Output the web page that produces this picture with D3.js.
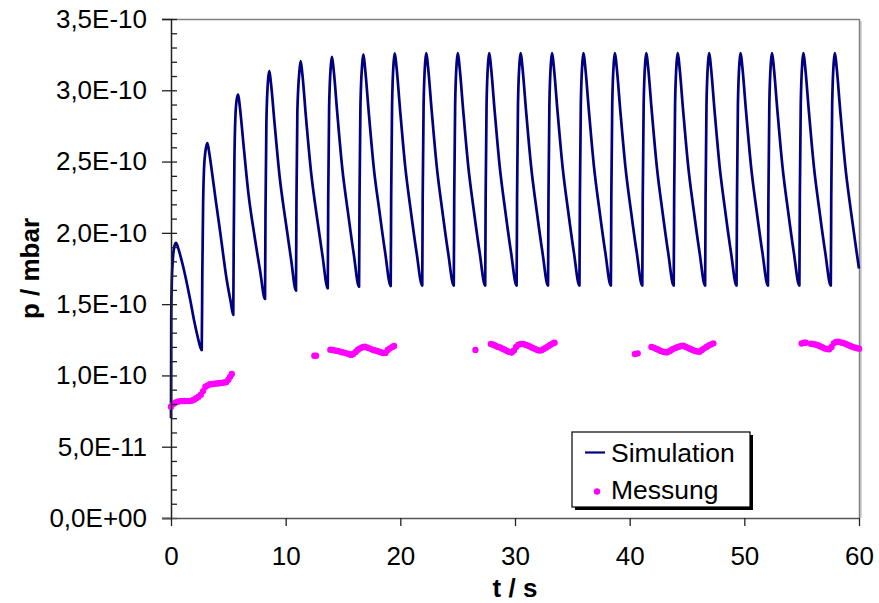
<!DOCTYPE html>
<html><head><meta charset="utf-8">
<script src="https://cdn.jsdelivr.net/npm/d3@7/dist/d3.min.js"></script>
<style>
html,body{margin:0;padding:0;background:#fff;}
svg{display:block;font-family:"Liberation Sans",Arial,sans-serif;}
</style></head>
<body><svg id="c" width="879" height="603"></svg>
<script>
// x ticks
const xTicks = [0, 10, 20, 30, 40, 50, 60];
const xTickLabels = ["0", "10", "20", "30", "40", "50", "60"];
// y ticks (values in 1e-10 mbar)
const yTicks = [0, 0.5, 1.0, 1.5, 2.0, 2.5, 3.0, 3.5];
const yTickLabels = ["0,0E+00", "5,0E-11", "1,0E-10", "1,5E-10", "2,0E-10", "2,5E-10", "3,0E-10", "3,5E-10"];
const seriesNames = ["Simulation", "Messung"];

// Simulation: [t (s), p (1e-10 mbar)]
const simulation = [
 [0,0.70],[0.02,1.40],[0.06,1.62],[0.15,1.80],[0.28,1.90],[0.44,1.93],[0.6,1.90],[0.85,1.83],[1.1,1.75],[1.4,1.64],[1.7,1.52],[2.0,1.39],[2.3,1.28],[2.55,1.20],[2.68,1.178],
 [2.73,1.70],[2.80,2.20],[2.88,2.45],[3.0,2.57],[3.17,2.63],[3.3,2.58],[3.5,2.47],[3.9,2.23],[4.3,2.00],[4.88,1.66],[5.2,1.52],[5.43,1.424],
 [5.47,1.95],[5.53,2.50],[5.62,2.82],[5.74,2.94],[5.86,2.97],[6.01,2.88],[6.31,2.63],[6.76,2.27],[7.26,1.99],[7.76,1.74],[8.2,1.536],
 [8.24,2.14],[8.32,2.78],[8.47,3.08],[8.58,3.135],[8.73,3.04],[9.03,2.77],[9.48,2.39],[9.98,2.09],[10.48,1.81],[10.9,1.594],
 [10.94,2.21],[11.02,2.85],[11.21,3.145],[11.31,3.205],[11.46,3.11],[11.76,2.82],[12.21,2.43],[12.71,2.12],[13.21,1.84],[13.67,1.611],
 [13.71,2.23],[13.79,2.88],[13.94,3.175],[14.04,3.235],[14.19,3.14],[14.49,2.85],[14.94,2.45],[15.44,2.14],[15.94,1.85],[16.4,1.622],
 [16.44,2.24],[16.52,2.89],[16.68,3.19],[16.78,3.252],[16.93,3.15],[17.23,2.86],[17.68,2.46],[18.18,2.15],[18.68,1.86],[19.16,1.627],
 [19.2,2.25],[19.28,2.90],[19.42,3.20],[19.52,3.259],[19.67,3.16],[19.97,2.87],[20.42,2.47],[20.92,2.15],[21.42,1.86],
 [21.91,1.63],[21.95,2.25],[22.03,2.90],[22.17,3.20],[22.27,3.26],[22.42,3.16],[22.72,2.87],[23.17,2.47],[23.67,2.15],[24.17,1.86],
 [24.66,1.63],[24.70,2.25],[24.78,2.90],[24.92,3.20],[25.02,3.26],[25.17,3.16],[25.47,2.87],[25.92,2.47],[26.42,2.15],[26.92,1.86],
 [27.40,1.63],[27.44,2.25],[27.52,2.90],[27.66,3.20],[27.76,3.26],[27.91,3.16],[28.21,2.87],[28.66,2.47],[29.16,2.15],[29.66,1.86],
 [30.14,1.63],[30.18,2.25],[30.26,2.90],[30.40,3.20],[30.50,3.26],[30.65,3.16],[30.95,2.87],[31.40,2.47],[31.90,2.15],[32.40,1.86],
 [32.88,1.63],[32.92,2.25],[33.00,2.90],[33.14,3.20],[33.24,3.26],[33.39,3.16],[33.69,2.87],[34.14,2.47],[34.64,2.15],[35.14,1.86],
 [35.62,1.63],[35.66,2.25],[35.74,2.90],[35.88,3.20],[35.98,3.26],[36.13,3.16],[36.43,2.87],[36.88,2.47],[37.38,2.15],[37.88,1.86],
 [38.36,1.63],[38.40,2.25],[38.48,2.90],[38.62,3.20],[38.72,3.26],[38.87,3.16],[39.17,2.87],[39.62,2.47],[40.12,2.15],[40.62,1.86],
 [41.10,1.63],[41.14,2.25],[41.22,2.90],[41.36,3.20],[41.46,3.26],[41.61,3.16],[41.91,2.87],[42.36,2.47],[42.86,2.15],[43.36,1.86],
 [43.84,1.63],[43.88,2.25],[43.96,2.90],[44.10,3.20],[44.20,3.26],[44.35,3.16],[44.65,2.87],[45.10,2.47],[45.60,2.15],[46.10,1.86],
 [46.58,1.63],[46.62,2.25],[46.70,2.90],[46.84,3.20],[46.94,3.26],[47.09,3.16],[47.39,2.87],[47.84,2.47],[48.34,2.15],[48.84,1.86],
 [49.32,1.63],[49.36,2.25],[49.44,2.90],[49.58,3.20],[49.68,3.26],[49.83,3.16],[50.13,2.87],[50.58,2.47],[51.08,2.15],[51.58,1.86],
 [52.06,1.63],[52.10,2.25],[52.18,2.90],[52.32,3.20],[52.42,3.26],[52.57,3.16],[52.87,2.87],[53.32,2.47],[53.82,2.15],[54.32,1.86],
 [54.80,1.63],[54.84,2.25],[54.92,2.90],[55.06,3.20],[55.16,3.26],[55.31,3.16],[55.61,2.87],[56.06,2.47],[56.56,2.15],[57.06,1.86],
 [57.54,1.63],[57.58,2.25],[57.66,2.90],[57.80,3.20],[57.90,3.26],[58.05,3.16],[58.35,2.87],[58.80,2.47],[59.30,2.15],[59.80,1.86],[60.0,1.75]
];

// Messung: [t (s), p (1e-10 mbar)]
const messung = [
 [0,0.78],[0.2,0.80],[0.4,0.81],[0.6,0.815],[0.8,0.82],[1.0,0.82],[1.2,0.821],[1.4,0.82],[1.6,0.82],[1.8,0.823],[2.0,0.83],[2.2,0.84],[2.4,0.85],[2.6,0.865],[2.8,0.89],[3.0,0.921],[3.2,0.93],[3.4,0.938],[3.6,0.94],[3.8,0.942],[4.0,0.944],[4.2,0.945],[4.4,0.947],[4.6,0.95],[4.8,0.952],[5.0,0.97],[5.15,0.99],[5.3,1.01],
 [12.5,1.138],[12.65,1.138],
 [13.9,1.18],[14.1,1.178],[14.3,1.175],[14.5,1.172],[14.7,1.168],[14.9,1.163],[15.1,1.16],[15.3,1.155],[15.5,1.15],[15.7,1.144],[15.9,1.15],[16.1,1.165],[16.3,1.18],[16.5,1.19],[16.7,1.198],[16.9,1.201],[17.1,1.196],[17.3,1.19],[17.5,1.183],[17.7,1.177],[17.9,1.173],[18.1,1.168],[18.3,1.163],[18.5,1.157],[18.7,1.158],[18.9,1.178],[19.1,1.19],[19.3,1.20],[19.45,1.206],
 [26.55,1.178],
 [27.9,1.22],[28.1,1.215],[28.3,1.208],[28.5,1.20],[28.7,1.196],[28.9,1.188],[29.1,1.18],[29.3,1.172],[29.5,1.165],[29.7,1.16],[29.9,1.175],[30.1,1.20],[30.3,1.215],[30.5,1.221],[30.7,1.22],[30.9,1.215],[31.1,1.21],[31.3,1.203],[31.5,1.195],[31.7,1.188],[31.9,1.18],[32.1,1.174],[32.3,1.176],[32.5,1.185],[32.7,1.195],[32.9,1.205],[33.1,1.215],[33.3,1.224],[33.45,1.229],
 [40.46,1.15],[40.7,1.155],
 [41.9,1.20],[42.1,1.195],[42.3,1.187],[42.5,1.18],[42.7,1.172],[42.9,1.166],[43.1,1.163],[43.3,1.163],[43.5,1.172],[43.7,1.182],[43.9,1.19],[44.1,1.196],[44.3,1.202],[44.5,1.207],[44.7,1.208],[44.9,1.20],[45.1,1.192],[45.3,1.185],[45.5,1.178],[45.7,1.172],[45.9,1.168],[46.1,1.166],[46.3,1.178],[46.5,1.19],[46.7,1.20],[46.9,1.21],[47.1,1.218],[47.3,1.225],
 [55.0,1.224],[55.2,1.23],[55.35,1.229],[55.8,1.222],[56.0,1.22],[56.2,1.217],[56.4,1.212],[56.6,1.205],[56.8,1.198],[57.0,1.19],[57.2,1.185],[57.4,1.184],[57.6,1.20],[57.8,1.225],[58.0,1.235],[58.2,1.236],[58.4,1.232],[58.6,1.228],[58.8,1.222],[59.0,1.215],[59.2,1.208],[59.4,1.202],[59.6,1.196],[59.8,1.192],[60.0,1.188]
];

const svg = d3.select("#c");
const L = 171, R = 859, T = 19, B = 518;
const x = d3.scaleLinear().domain([0, 60]).range([L, R]);
const y = d3.scaleLinear().domain([0, 3.5]).range([B, T]);
const FS = 26;

// plot border (top & right) + shadow
svg.append("line").attr("x1", R + 2).attr("x2", R + 2).attr("y1", T + 2).attr("y2", B).attr("stroke", "#d4d4d4").attr("stroke-width", 2);
svg.append("line").attr("x1", L).attr("x2", R).attr("y1", T + 0.5).attr("y2", T + 0.5).attr("stroke", "#808080").attr("stroke-width", 1.5);
svg.append("line").attr("x1", R + 0.5).attr("x2", R + 0.5).attr("y1", T).attr("y2", B).attr("stroke", "#808080").attr("stroke-width", 1.5);

// simulation line
svg.append("path").datum(simulation)
  .attr("fill", "none").attr("stroke", "#000080").attr("stroke-width", 2.7)
  .attr("stroke-linejoin", "round")
  .attr("d", d3.line().x(d => x(d[0])).y(d => y(d[1])).curve(d3.curveMonotoneX));

// messung dots
svg.append("g").selectAll("circle").data(messung).join("circle")
  .attr("cx", d => x(d[0])).attr("cy", d => y(d[1])).attr("r", 3.2).attr("fill", "#FF00FF");

// y axis
const minorTicks = d3.range(0, 3.5001, 0.1);
const yAxis = svg.append("g").attr("transform", `translate(${L},0)`)
  .call(d3.axisLeft(y).tickValues(yTicks).tickSize(9).tickPadding(15)
    .tickFormat((d, i) => yTickLabels[i]));
svg.append("g").attr("transform", `translate(${L},0)`)
  .call(d3.axisRight(y).tickValues(minorTicks).tickSize(6).tickFormat(""))
  .call(g => g.select(".domain").remove());
// x axis
const xAxis = svg.append("g").attr("transform", `translate(0,${B})`)
  .call(d3.axisBottom(x).tickValues(xTicks).tickSize(8).tickPadding(21)
    .tickFormat((d, i) => xTickLabels[i]));

svg.selectAll(".domain").attr("stroke", "#222").attr("stroke-width", 1.5);
svg.selectAll(".tick line").attr("stroke", "#222").attr("stroke-width", 1.3);
svg.selectAll(".tick text").attr("font-size", FS).attr("fill", "#000")
  .attr("font-family", "'Liberation Sans', Arial, sans-serif");
xAxis.select(".domain").attr("d", `M${L - 9},0.5H${R}`).attr("stroke", "#555");

// axis titles
svg.append("text").attr("x", (L + R) / 2).attr("y", 597).attr("text-anchor", "middle")
  .attr("font-size", FS).attr("font-weight", "bold").text("t / s");
svg.append("text").attr("transform", `translate(39,${(T + B) / 2}) rotate(-90)`).attr("text-anchor", "middle")
  .attr("font-size", FS).attr("font-weight", "bold").text("p / mbar");

// legend
const lg = svg.append("g");
lg.append("rect").attr("x", 575).attr("y", 435).attr("width", 178).attr("height", 75).attr("fill", "#000");
lg.append("rect").attr("x", 572).attr("y", 432).attr("width", 178).attr("height", 75).attr("fill", "#fff").attr("stroke", "#000").attr("stroke-width", 1.2);
lg.append("line").attr("x1", 585).attr("x2", 605).attr("y1", 452.5).attr("y2", 452.5).attr("stroke", "#000080").attr("stroke-width", 2.2);
lg.append("circle").attr("cx", 597).attr("cy", 491.5).attr("r", 3.2).attr("fill", "#FF00FF");
lg.append("text").attr("x", 611).attr("y", 462).attr("font-size", 26.5).text(seriesNames[0]);
lg.append("text").attr("x", 611).attr("y", 499).attr("font-size", 26.5).text(seriesNames[1]);
</script></body></html>
